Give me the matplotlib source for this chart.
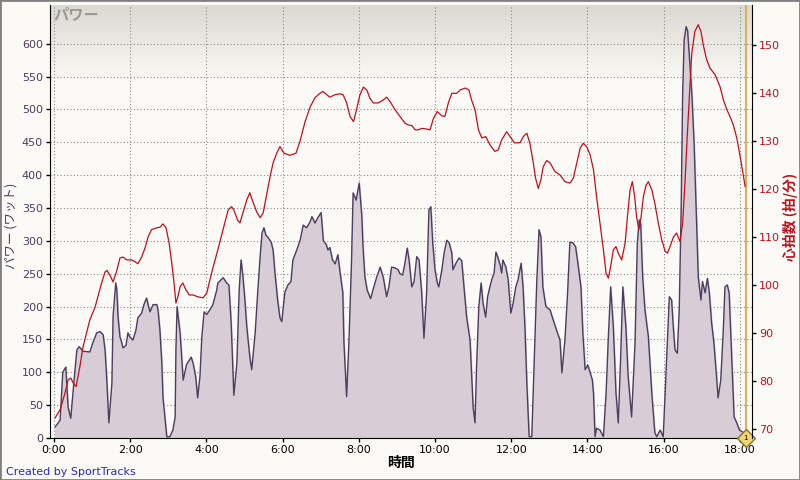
import numpy as np
import matplotlib.pyplot as plt
from matplotlib.colors import LinearSegmentedColormap

plt.rcParams['font.family'] = ['Noto Sans CJK JP', 'DejaVu Sans']

# Power (minutes, watts)
pw_t = [0.03, 0.16, 0.23, 0.31, 0.37, 0.44, 0.52, 0.60, 0.66, 0.76, 0.94, 1.02, 1.12, 1.21, 1.29,
        1.34, 1.39, 1.44, 1.52, 1.55, 1.62, 1.65, 1.68, 1.73, 1.78, 1.81, 1.89, 1.94, 1.99, 2.07,
        2.15, 2.20, 2.30, 2.36, 2.43, 2.47, 2.52, 2.60, 2.70, 2.73, 2.78, 2.83, 2.86, 2.91, 2.96,
        3.04, 3.12, 3.18, 3.20, 3.23, 3.31, 3.39, 3.48, 3.60, 3.65, 3.72, 3.77, 3.83, 3.88, 3.94,
        4.01, 4.09, 4.17, 4.27, 4.30, 4.44, 4.53, 4.59, 4.65, 4.69, 4.72, 4.80, 4.86, 4.91, 4.96,
        5.01, 5.06, 5.14, 5.19, 5.22, 5.28, 5.35, 5.41, 5.46, 5.51, 5.56, 5.62, 5.70, 5.75, 5.80,
        5.87, 5.93, 5.98, 6.01, 6.06, 6.14, 6.22, 6.27, 6.37, 6.46, 6.54, 6.63, 6.72, 6.77, 6.85,
        6.92, 7.01, 7.07, 7.14, 7.19, 7.24, 7.31, 7.38, 7.45, 7.51, 7.58, 7.61, 7.68, 7.74, 7.81,
        7.85, 7.93, 8.01, 8.08, 8.11, 8.16, 8.22, 8.31, 8.37, 8.47, 8.56, 8.64, 8.73, 8.79, 8.86,
        8.95, 9.03, 9.08, 9.15, 9.21, 9.27, 9.32, 9.39, 9.45, 9.52, 9.58, 9.65, 9.71, 9.78, 9.84,
        9.89, 9.94, 10.00, 10.06, 10.10, 10.18, 10.24, 10.31, 10.37, 10.44, 10.47, 10.55, 10.63, 10.70, 10.76,
        10.83, 10.92, 10.96, 11.00, 11.05, 11.09, 11.15, 11.21, 11.26, 11.33, 11.38, 11.44, 11.49, 11.55, 11.60,
        11.65, 11.71, 11.75, 11.78, 11.86, 11.92, 11.99, 12.05, 12.12, 12.18, 12.26, 12.31, 12.36, 12.41, 12.47,
        12.54, 12.60, 12.67, 12.73, 12.78, 12.83, 12.91, 13.02, 13.10, 13.19, 13.28, 13.33, 13.41, 13.48, 13.54,
        13.62, 13.69, 13.75, 13.83, 13.88, 13.94, 14.01, 14.07, 14.13, 14.16, 14.20, 14.24, 14.33, 14.42, 14.49,
        14.55, 14.61, 14.68, 14.75, 14.81, 14.87, 14.93, 15.01, 15.07, 15.16, 15.25, 15.31, 15.36, 15.40, 15.45,
        15.51, 15.60, 15.69, 15.77, 15.82, 15.91, 15.99, 16.04, 16.10, 16.15, 16.21, 16.26, 16.30, 16.36, 16.41,
        16.46, 16.50, 16.54, 16.59, 16.63, 16.68, 16.74, 16.80, 16.87, 16.91, 16.98, 17.02, 17.09, 17.15, 17.20,
        17.26, 17.32, 17.39, 17.43, 17.50, 17.57, 17.61, 17.67, 17.72, 17.79, 17.85, 17.92, 17.99, 18.08, 18.14]
pw_w = [17, 27, 100, 108, 47, 30, 84, 134, 139, 132, 131, 145, 160, 162, 157,
        134, 84, 23, 84, 185, 236, 225, 185, 154, 145, 137, 141, 160, 154, 149,
        164, 183, 190, 203, 213, 203, 192, 203, 203, 195, 164, 114, 62, 32, 2,
        2, 12, 32, 134, 200, 160, 88, 112, 123, 114, 93, 61, 93, 154, 192,
        188, 195, 203, 225, 236, 244, 236, 233, 175, 114, 65, 114, 225, 271, 245,
        210, 169, 123, 104, 123, 160, 225, 276, 312, 320, 309, 305, 298, 286, 251,
        210, 183, 177, 195, 222, 233, 238, 271, 286, 301, 324, 320, 329, 337, 327,
        335, 343, 300, 295, 286, 290, 271, 265, 279, 251, 221, 145, 63, 145, 271,
        373, 362, 388, 337, 291, 245, 225, 212, 225, 245, 260, 245, 215, 230, 260,
        259, 256, 250, 248, 266, 289, 271, 230, 238, 276, 271, 221, 152, 221, 347,
        352, 297, 256, 236, 230, 256, 282, 301, 297, 282, 256, 266, 274, 270, 230,
        184, 149, 99, 47, 23, 108, 200, 236, 205, 184, 215, 230, 241, 251, 283,
        275, 263, 251, 271, 260, 241, 190, 205, 230, 241, 266, 230, 169, 84, 2,
        2, 108, 236, 317, 306, 230, 200, 195, 180, 164, 149, 99, 149, 221, 298,
        297, 291, 266, 230, 160, 104, 111, 100, 88, 68, 2, 15, 12, 2, 68,
        154, 230, 169, 68, 23, 119, 230, 169, 93, 32, 145, 297, 332, 325, 245,
        195, 154, 68, 8, 2, 12, 2, 68, 145, 215, 210, 164, 134, 129, 195,
        347, 525, 606, 626, 620, 576, 525, 449, 321, 245, 210, 238, 221, 243, 221,
        175, 145, 93, 61, 88, 169, 230, 233, 221, 119, 32, 23, 12, 9, 2]

# Heart rate (minutes, bpm)
hr_t = [0.03, 0.16, 0.29, 0.37, 0.44, 0.50, 0.58, 0.68, 0.76, 0.86, 0.94, 1.08, 1.15, 1.25, 1.34,
        1.39, 1.47, 1.55, 1.65, 1.73, 1.81, 1.91, 2.04, 2.13, 2.20, 2.30, 2.39, 2.47, 2.56, 2.70,
        2.78, 2.86, 2.94, 3.02, 3.09, 3.15, 3.20, 3.25, 3.31, 3.38, 3.46, 3.55, 3.65, 3.78, 3.91,
        4.01, 4.09, 4.17, 4.30, 4.40, 4.49, 4.57, 4.66, 4.72, 4.82, 4.88, 4.96, 5.06, 5.14, 5.22,
        5.32, 5.41, 5.49, 5.58, 5.67, 5.75, 5.85, 5.93, 6.04, 6.19, 6.35, 6.46, 6.59, 6.72, 6.85,
        6.98, 7.06, 7.16, 7.24, 7.37, 7.51, 7.59, 7.68, 7.77, 7.86, 7.94, 8.03, 8.12, 8.21, 8.29,
        8.38, 8.51, 8.64, 8.73, 8.82, 8.95, 9.08, 9.21, 9.30, 9.39, 9.48, 9.56, 9.65, 9.76, 9.87,
        9.96, 10.06, 10.18, 10.26, 10.35, 10.44, 10.57, 10.66, 10.79, 10.89, 10.96, 11.05, 11.14, 11.23, 11.33,
        11.44, 11.57, 11.66, 11.75, 11.88, 11.97, 12.08, 12.23, 12.32, 12.41, 12.49, 12.58, 12.64, 12.71, 12.78,
        12.84, 12.93, 13.02, 13.15, 13.28, 13.41, 13.54, 13.63, 13.72, 13.81, 13.89, 13.98, 14.07, 14.16, 14.24,
        14.33, 14.42, 14.49, 14.55, 14.61, 14.68, 14.75, 14.81, 14.90, 14.99, 15.05, 15.12, 15.18, 15.24, 15.29,
        15.35, 15.41, 15.47, 15.54, 15.60, 15.69, 15.77, 15.86, 15.95, 16.04, 16.10, 16.17, 16.26, 16.34, 16.43,
        16.50, 16.56, 16.62, 16.68, 16.74, 16.82, 16.91, 16.98, 17.04, 17.13, 17.22, 17.35, 17.48, 17.57, 17.66,
        17.74, 17.83, 17.92, 18.01, 18.08, 18.14]
hr_bpm = [72.3, 74, 77.5, 80.2, 80.6, 79.6, 78.8, 83, 87, 90.2, 92.7, 95.4, 97.5, 100.4, 102.7,
          103, 102, 100.6, 103, 105.6, 105.8, 105.2, 105.2, 104.8, 104.4, 105.8, 107.7, 110, 111.5, 111.9,
          112, 112.7, 111.9, 108.8, 104.6, 100.4, 96.2, 97.5, 99.6, 100.4, 99, 97.9, 97.9, 97.5, 97.3,
          98.3, 101, 103.5, 107.3, 110.4, 113.1, 115.6, 116.3, 115.6, 113.5, 112.9, 115, 117.7, 119.2, 117.3,
          115.2, 114, 115, 118.8, 122.5, 125.4, 127.5, 128.8, 127.4, 127.0, 127.4, 130, 134, 137, 139,
          139.9, 140.3, 139.6, 139.1, 139.6, 139.8, 139.6, 137.9, 135.1, 134, 136.5, 139.6, 141.2, 140.6, 138.9,
          137.9, 137.9, 138.5, 139.1, 138.2, 136.5, 135.1, 133.7, 133.3, 133.2, 132.3, 132.3, 132.6, 132.5, 132.3,
          134.7, 136.1, 135.2, 135.1, 137.9, 139.9, 139.9, 140.6, 141, 140.6, 138.5, 136.5, 132.3, 130.6, 130.9,
          129.2, 127.8, 128.1, 130.2, 131.9, 130.9, 129.6, 129.6, 130.9, 131.6, 129.5, 125.4, 122.2, 120.1, 121.9,
          124.6, 125.9, 125.4, 123.6, 122.9, 121.5, 121.2, 122.2, 125.4, 128.5, 129.5, 128.8, 127.1, 124, 118.4,
          112.9, 107.3, 102.4, 101.4, 103.8, 107.3, 108, 106.6, 105.2, 108.7, 114.2, 119.8, 121.5, 118.4, 114.2,
          111.5, 114.2, 118.4, 120.8, 121.5, 119.8, 117, 112.9, 109.4, 107, 106.6, 108, 110, 110.8, 109,
          112.9, 121.2, 130.9, 139.9, 148.3, 152.8, 154.2, 152.8, 150, 146.9, 145.1, 143.8, 141.3, 138.5, 136.5,
          135.1, 133.3, 130.6, 126.7, 123.3, 120.5]

x_ticks = [0, 2, 4, 6, 8, 10, 12, 14, 16, 18]
x_labels = ['0:00', '2:00', '4:00', '6:00', '8:00', '10:00', '12:00', '14:00', '16:00', '18:00']
pw_ticks = list(range(0, 601, 50))
hr_ticks = list(range(70, 151, 10))
lap_time = 18.15

bg = '#fbfaf6'
purple = '#4b3d5e'
red = '#c0101c'

fig = plt.figure(figsize=(8, 4.8), dpi=100, facecolor=bg)
fig.patches.append(plt.Rectangle((0, 0), 1, 1, transform=fig.transFigure,
                                 fill=False, edgecolor='#808080', lw=2))
ax = fig.add_axes([50 / 800, 42 / 480, 702 / 800, 433 / 480])
ax.set_facecolor(bg)
ax.set_xlim(-0.105, 18.32)
ax.set_ylim(0, 659)

# top gradient
cmap = LinearSegmentedColormap.from_list('g', ['#dcd8d2', bg])
grad = np.linspace(0, 1, 100).reshape(-1, 1)
ax.imshow(grad, cmap=cmap, aspect='auto', extent=(-0.105, 18.32, 540, 659),
          origin='upper', zorder=0)

ax.grid(True, color='#8c8c8c', linestyle=(0, (1, 2)), linewidth=0.8)
ax.set_axisbelow(True)

ax.fill_between(pw_t, pw_w, 0, color='#d8cdd6', zorder=2)
ax.plot(pw_t, pw_w, color=purple, lw=1.0, zorder=3)

ax.set_xticks(x_ticks)
ax.set_xticklabels(x_labels, fontsize=8, family='DejaVu Sans')
ax.set_yticks(pw_ticks)
ax.set_yticklabels([str(v) for v in pw_ticks], fontsize=8, color=purple, family='DejaVu Sans')
ax.tick_params(axis='both', length=3, width=1, pad=2)
ax.tick_params(axis='y', colors=purple, labelcolor=purple)
ax.tick_params(axis='y', color='black')
for s in ['top', 'right']:
    ax.spines[s].set_visible(False)
ax.spines['left'].set_color('black')
ax.spines['bottom'].set_color('black')

ax.set_xlabel('時間', fontsize=10, fontweight='bold', labelpad=1)
ax.set_ylabel('パワー (ワット)', fontsize=9, color=purple)
ax.yaxis.set_label_coords(-0.046, 0.49)
ax.text(0.005, 0.998, 'パワー', transform=ax.transAxes, fontsize=11, color='#999999',
        ha='left', va='top', style='italic', fontweight='bold', zorder=5)

ax2 = ax.twinx()
ax2.set_ylim(68.1, 158.3)
ax2.plot(hr_t, hr_bpm, color=red, lw=0.9, zorder=4)
ax2.set_yticks(hr_ticks)
ax2.set_yticklabels([str(v) for v in hr_ticks], fontsize=8, color=red, family='DejaVu Sans')
ax2.tick_params(axis='y', length=3, width=1, pad=2, color='black')
for s in ['top', 'left', 'bottom']:
    ax2.spines[s].set_visible(False)
ax2.spines['right'].set_color('black')
ax2.set_ylabel('心拍数 (拍/分)', fontsize=10, color=red, fontweight='bold', rotation=90)
ax2.yaxis.set_label_coords(1.044, 0.51)

ax.axvline(lap_time, color='#d8b060', lw=1.5, zorder=4)
ax.plot([lap_time], [0], marker='D', markersize=9, color='#f2d470',
        markeredgecolor='#8a7030', clip_on=False, zorder=6)
ax.text(lap_time, 0, '1', fontsize=5, ha='center', va='center', zorder=7, family='DejaVu Sans')

fig.text(6 / 800, 1 - 472 / 480, 'Created by SportTracks', fontsize=8, color='#2828c8',
         ha='left', va='center', family='DejaVu Sans')

fig.savefig('out.png', dpi=100, facecolor=bg)
